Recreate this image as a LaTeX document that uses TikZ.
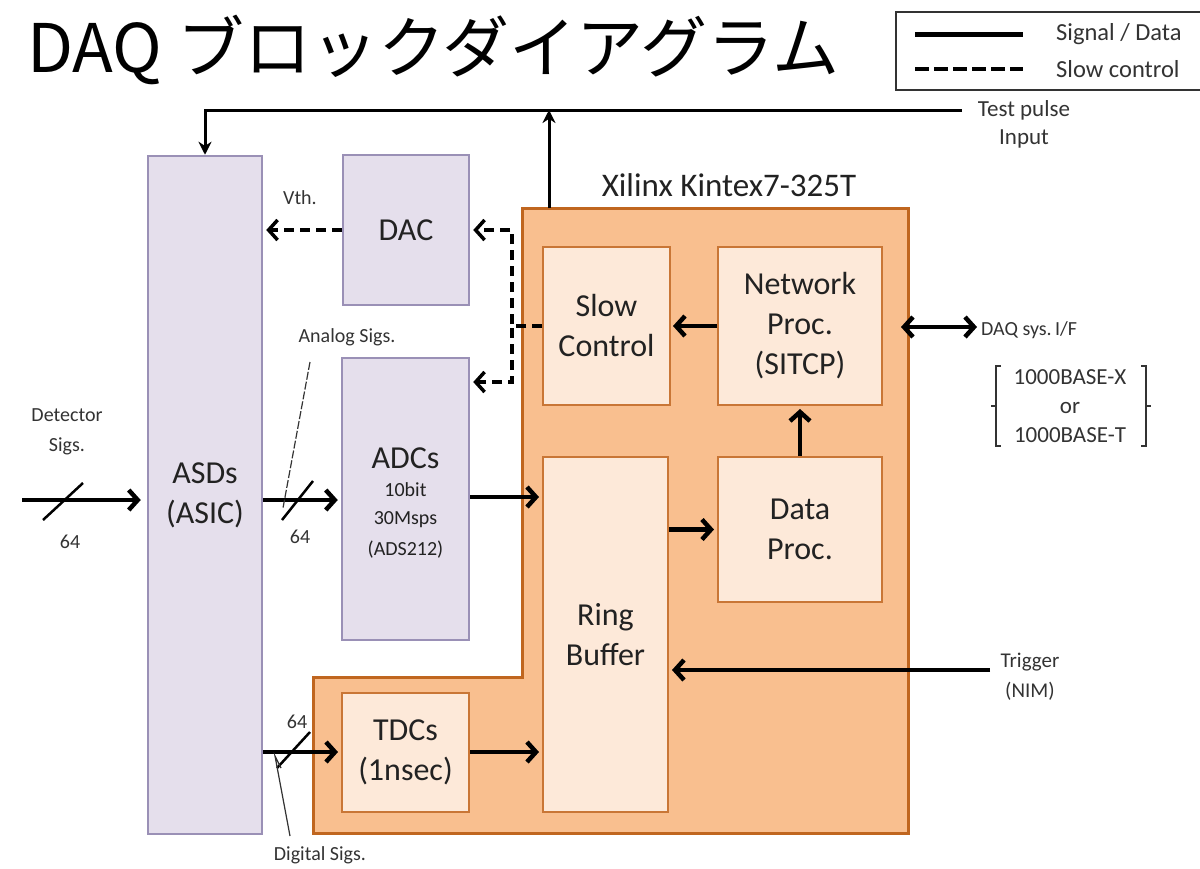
\documentclass[tikz,border=0pt]{standalone}
\usepackage{fontspec}
\setmainfont{Carlito}
\newfontfamily\jpfont{Noto Sans CJK JP}
\usetikzlibrary{arrows.meta}
\definecolor{lavfill}{HTML}{E5DFEC}
\definecolor{lavdraw}{HTML}{9A90B6}
\definecolor{fpgafill}{HTML}{F9BF8F}
\definecolor{fpgadraw}{HTML}{C0661F}
\definecolor{infill}{HTML}{FDE9D9}
\definecolor{indraw}{HTML}{C97636}
\definecolor{txt}{HTML}{222222}
\definecolor{lbl}{HTML}{333333}
\tikzset{
  extbox/.style={draw=lavdraw, fill=lavfill, line width=2.5pt, inner sep=0pt, text=txt,
    align=center, font=\fontsize{32}{40}\selectfont},
  inbox/.style={draw=indraw, fill=infill, line width=2pt, inner sep=0pt, text=txt,
    align=center, font=\fontsize{32}{40}\selectfont},
  smalllbl/.style={text=lbl, inner sep=0pt, align=center, font=\fontsize{20}{30}\selectfont},
  sig/.style={line width=4.5pt, -{Straight Barb[length=9pt,width=20pt]}},
  ctl/.style={line width=3.5pt, dash pattern=on 10pt off 6pt, -{Straight Barb[length=9pt,width=20pt]}},
  tp/.style={line width=3pt, -{Stealth[length=13pt,width=13pt]}},
  slash/.style={line width=2.5pt},
  leader/.style={line width=1.2pt, lbl},
}
\begin{document}
\begin{tikzpicture}[x=1pt,y=-1pt]
\useasboundingbox (0,0) rectangle (1200,868);

% title
\node[anchor=base west, inner sep=0pt, font=\fontsize{67}{70}\selectfont\jpfont] (title) at (27,72) {DAQ ブロックダイアグラム};

% legend
\draw[line width=2pt, lbl] (896,12) rectangle (1215,90);
\coordinate (lg1a) at (915,34); \coordinate (lg1b) at (1023,34);
\coordinate (lg2a) at (915,69); \coordinate (lg2b) at (1023,69);
\draw[line width=5pt] (lg1a) -- (lg1b);
\draw[line width=4pt, dash pattern=on 14pt off 5pt] (lg2a) -- (lg2b);
\node[anchor=west, text=lbl, inner sep=0pt, font=\fontsize{24.5}{28}\selectfont] (lgt1) at (1056,34) {Signal / Data};
\node[anchor=west, text=lbl, inner sep=0pt, font=\fontsize{24.5}{28}\selectfont] (lgt2) at (1056,69) {Slow control};

% FPGA region
\draw[draw=fpgadraw, fill=fpgafill, line width=3pt]
  (522,208) -- (908,208) -- (908,833) -- (313,833) -- (313,677) -- (522,677) -- cycle;
\node[text=txt, inner sep=0pt, font=\fontsize{33}{36}\selectfont] (fpgalbl) at (729,185) {Xilinx Kintex7-325T};

% external boxes
\node[extbox, minimum width=114pt, minimum height=678pt] (asd) at (205,495) {ASDs\\(ASIC)};
\node[extbox, minimum width=126pt, minimum height=150pt] (dac) at (406,230) {DAC};
\node[extbox, minimum width=127pt, minimum height=282pt] (adc) at (405.5,499) {};
\node[text=txt, inner sep=0pt, font=\fontsize{32}{36}\selectfont] (adct1) at (405.5,458) {ADCs};
\node[smalllbl, text=txt] (adct2) at (405.5,490) {10bit};
\node[smalllbl, text=txt] (adct3) at (405.5,520) {30Msps};
\node[smalllbl, text=txt] (adct4) at (405.5,550) {(ADS212)};

% FPGA inner boxes
\node[inbox, minimum width=127pt, minimum height=158pt] (slow) at (606.5,326) {Slow\\Control};
\node[inbox, minimum width=164pt, minimum height=158pt] (net) at (800,326) {Network\\Proc.\\(SITCP)};
\node[inbox, minimum width=125pt, minimum height=355pt] (ring) at (605.5,634.5) {Ring\\Buffer};
\node[inbox, minimum width=164pt, minimum height=145pt] (data) at (800,529.5) {Data\\Proc.};
\node[inbox, minimum width=127pt, minimum height=119pt] (tdc) at (405.5,752.5) {TDCs\\(1nsec)};

% test pulse
\coordinate (tpin) at (962,110);
\coordinate (fpgatop) at (549,208);
\draw[tp] (tpin) -| (asd.north);
\draw[tp] (fpgatop) -- (fpgatop |- tpin);
\node[text=lbl, inner sep=0pt, font=\fontsize{23}{28}\selectfont, align=center] (tplbl) at (1024,124) {Test pulse\\Input};

% detector signals
\coordinate (detin) at (22,500);
\draw[sig, shorten >=6pt] (detin) -- (detin -| asd.west);
\coordinate (s1a) at (43,520); \coordinate (s1b) at (83,483);
\draw[slash] (s1a) -- (s1b);
\node[smalllbl] (n64a) at (70,542) {64};
\node[smalllbl] (detlbl) at (67,432) {Detector\\Sigs.};

% ASD -> ADC
\coordinate (a2a) at (asd.east |- detin);
\draw[sig, shorten >=3pt] (a2a) -- (a2a -| adc.west);
\coordinate (s2a) at (282,520); \coordinate (s2b) at (313,481);
\draw[slash] (s2a) -- (s2b);
\node[smalllbl] (n64b) at (300,537) {64};
\node[smalllbl] (anlbl) at (347,337) {Analog Sigs.};
\coordinate (an1) at (310,362); \coordinate (an2) at (283,508);
\draw[leader, dash pattern=on 8pt off 2pt] (an1) -- (an2);

% ADC -> Ring
\coordinate (ad1) at (adc.east |- 0,497);
\draw[sig, shorten >=3pt] (ad1) -- (ad1 -| ring.west);

% ASD -> TDC
\coordinate (t1) at (asd.east |- 0,752);
\draw[sig, shorten >=3pt] (t1) -- (t1 -| tdc.west);
\coordinate (s3a) at (277,768); \coordinate (s3b) at (310,732);
\draw[slash] (s3a) -- (s3b);
\node[smalllbl] (n64c) at (297,722) {64};
\node[smalllbl] (diglbl) at (320,855) {Digital Sigs.};
\coordinate (dg1) at (290,836); \coordinate (dg2) at (275,756); \coordinate (dg3) at (281,768);
\draw[leader] (dg1) -- (dg2) -- (dg3);

% TDC -> Ring
\coordinate (t2) at (tdc.east |- 0,752);
\draw[sig, shorten >=3pt] (t2) -- (t2 -| ring.west);

% Ring -> Data
\draw[sig, shorten >=3pt] (ring.east |- data.west) -- (data.west);
% Data -> Network
\draw[sig, shorten >=3pt] (data.north) -- (net.south);
% Network -> Slow control
\draw[sig, shorten >=2pt] (net.west) -- (slow.east);

% DAQ I/F
\coordinate (fpgaR) at (901,327);
\coordinate (daqif) at (977,327);
\draw[line width=4.5pt, {Straight Barb[length=9pt,width=20pt]}-{Straight Barb[length=9pt,width=20pt]}] (fpgaR) -- (daqif);
\node[smalllbl, anchor=west] (daqlbl) at (981,330) {DAQ sys.\,I/F};
\node[smalllbl, font=\fontsize{23}{29}\selectfont] (baselbl) at (1070,406) {1000BASE-X\\or\\1000BASE-T};
\draw[leader, line width=1.5pt] (1001,366) -- (996,366) -- (996,446) -- (1001,446) (996,406) -- (991,406);
\draw[leader, line width=1.5pt] (1141,366) -- (1146,366) -- (1146,446) -- (1141,446) (1146,406) -- (1151,406);

% Trigger
\coordinate (trig) at (990,670);
\draw[sig, shorten >=3pt] (trig) -- (trig -| ring.east);
\node[smalllbl, font=\fontsize{21}{30}\selectfont] (trglbl) at (1030,677) {Trigger\\(NIM)};

% slow control dashed
\coordinate (sc) at (512,326);
\coordinate (adcin) at (adc.east |- 0,382);
\draw[ctl, shorten >=3pt] (slow.west) -- (sc) |- (dac.east);
\draw[ctl, shorten >=3pt] (slow.west) -- (sc) |- (adcin);
\draw[ctl, shorten >=3pt] (dac.west) -- (dac.west -| asd.east);
\node[smalllbl] (vth) at (300,198) {Vth.};
\end{tikzpicture}
\end{document}
